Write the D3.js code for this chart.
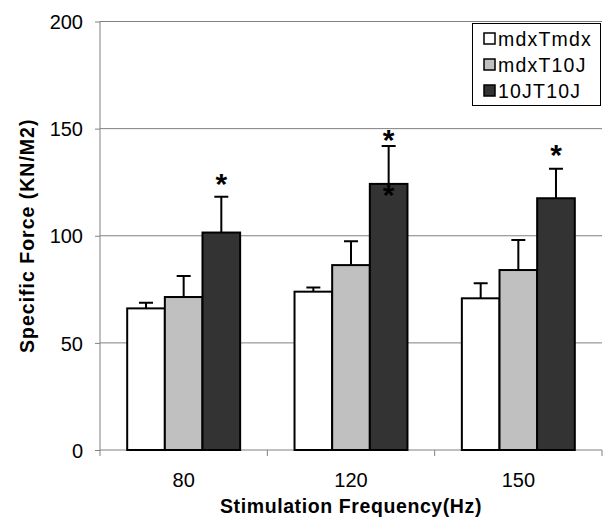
<!DOCTYPE html>
<html lang="en">
  <head>
    <meta charset="UTF-8" />
    <title>Specific Force</title>
    <script src="https://d3js.org/d3.v7.min.js"></script>
    <style>
      body { margin: 0; background: #fff; }
      svg text { font-family: Arial, Helvetica, sans-serif; fill: #000; }
      .tick text { font-size: 20px; }
      .title { font-size: 19.5px; font-weight: bold; }
    </style>
  </head>
  <body>
    <svg width="609" height="522"></svg>
    <script>
      const categories = ["80", "120", "150"];
      const seriesNames = ["mdxTmdx", "mdxT10J", "10JT10J"];
      const seriesColors = ["#ffffff", "#c0c0c0", "#333333"];
      // means per series, in category order
      const mdxTmdx = [66.1, 73.9, 70.8];
      const mdxT10J = [71.4, 86.3, 84.0];
      const j10T10J = [101.5, 124.2, 117.5];
      // top of the error bar per series
      const mdxTmdxErr = [68.7, 75.8, 77.8];
      const mdxT10JErr = [81.2, 97.4, 98.0];
      const j10T10JErr = [118.2, 141.9, 131.3];
      const yTicks = [0, 50, 100, 150, 200];
      // significance stars: [category, value]
      const stars = [["80", 126.5], ["120", 147], ["120", 121.5], ["150", 140]];

      const values = [mdxTmdx, mdxT10J, j10T10J];
      const errs = [mdxTmdxErr, mdxT10JErr, j10T10JErr];

      const svg = d3.select("svg");
      const mLeft = 100, mRight = 602, mTop = 21.5, mBottom = 450;

      const x = d3.scaleBand().domain(categories).range([mLeft, mRight]).paddingInner(0).paddingOuter(0);
      const bw = x.bandwidth() * 0.225;
      const y = d3.scaleLinear().domain([0, 200]).range([mBottom, mTop]);

      // grid
      svg.append("g")
        .selectAll("line")
        .data(yTicks.filter((d) => d > 0))
        .enter()
        .append("line")
        .attr("x1", mLeft)
        .attr("x2", mRight)
        .attr("y1", (d) => y(d))
        .attr("y2", (d) => y(d))
        .attr("stroke", "#808080")
        .attr("stroke-width", 1);

      // y axis
      const yAxis = svg.append("g")
        .attr("transform", `translate(${mLeft},0)`)
        .call(d3.axisLeft(y).tickValues(yTicks).tickSize(5).tickPadding(12));
      yAxis.attr("font-family", null).attr("font-size", null);
      yAxis.selectAll("line, path").attr("stroke", "#808080");
      yAxis.select(".domain").attr("d", `M0,${mBottom}V${mTop}`);
      yAxis.selectAll("text").attr("dy", "0.36em");

      // x axis with ticks between categories
      const xAxis = svg.append("g").attr("transform", `translate(0,${mBottom})`);
      xAxis.append("line").attr("x1", mLeft).attr("x2", mRight).attr("stroke", "#808080");
      const edges = categories.map((c) => x(c)).concat([mRight]);
      xAxis.selectAll(".edge")
        .data(edges)
        .enter()
        .append("line")
        .attr("x1", (d) => d)
        .attr("x2", (d) => d)
        .attr("y1", 0)
        .attr("y2", 6)
        .attr("stroke", "#808080");
      xAxis.selectAll(".lab")
        .data(categories)
        .enter()
        .append("text")
        .attr("x", (c) => x(c) + x.bandwidth() / 2)
        .attr("y", 37)
        .attr("text-anchor", "middle")
        .style("font-size", "20px")
        .text((c) => c);

      // bars
      const gx = (c, i) => x(c) + x.bandwidth() / 2 + (i - 1.5) * bw;
      values.forEach((vals, i) => {
        const g = svg.append("g");
        // error bars
        g.selectAll(".err")
          .data(categories)
          .enter()
          .append("path")
          .attr("d", (c, k) => {
            const cx = gx(c, i) + bw / 2;
            return `M${cx},${y(vals[k])}V${y(errs[i][k])}M${cx - 7},${y(errs[i][k])}H${cx + 7}`;
          })
          .attr("stroke", "#000")
          .attr("stroke-width", 2)
          .attr("fill", "none");
        g.selectAll("rect")
          .data(categories)
          .enter()
          .append("rect")
          .attr("x", (c) => gx(c, i))
          .attr("y", (c, k) => y(vals[k]))
          .attr("width", bw)
          .attr("height", (c, k) => mBottom - y(vals[k]))
          .attr("fill", seriesColors[i])
          .attr("stroke", "#000")
          .attr("stroke-width", 2);
      });

      // stars
      svg.selectAll(".star")
        .data(stars)
        .enter()
        .append("text")
        .attr("x", (d) => gx(d[0], 2) + bw / 2)
        .attr("y", (d) => y(d[1]) + 15)
        .attr("text-anchor", "middle")
        .style("font-size", "30px")
        .style("font-weight", "bold")
        .text("*");

      // legend
      const lg = svg.append("g");
      lg.append("rect")
        .attr("x", 472.5)
        .attr("y", 23.5)
        .attr("width", 128)
        .attr("height", 82)
        .attr("fill", "#fff")
        .attr("stroke", "#000")
        .attr("stroke-width", 1);
      const rowY = [38.5, 64.5, 90.5];
      seriesNames.forEach((name, i) => {
        lg.append("rect")
          .attr("x", 484)
          .attr("y", rowY[i] - 5.5)
          .attr("width", 11)
          .attr("height", 11)
          .attr("fill", seriesColors[i])
          .attr("stroke", "#000")
          .attr("stroke-width", 1.5);
        lg.append("text")
          .attr("x", 498)
          .attr("y", rowY[i] + 7)
          .style("font-size", "19.5px")
          .style("letter-spacing", "1.2px")
          .text(name);
      });

      // axis titles
      svg.append("text")
        .attr("class", "title")
        .attr("x", (mLeft + mRight) / 2)
        .attr("y", 513)
        .attr("text-anchor", "middle")
        .style("letter-spacing", "0.6px")
        .text("Stimulation Frequency(Hz)");
      svg.append("text")
        .attr("class", "title")
        .attr("transform", `translate(34,${(mTop + mBottom) / 2}) rotate(-90)`)
        .attr("text-anchor", "middle")
        .style("letter-spacing", "1px")
        .text("Specific Force (KN/M2)");
    </script>
  </body>
</html>
